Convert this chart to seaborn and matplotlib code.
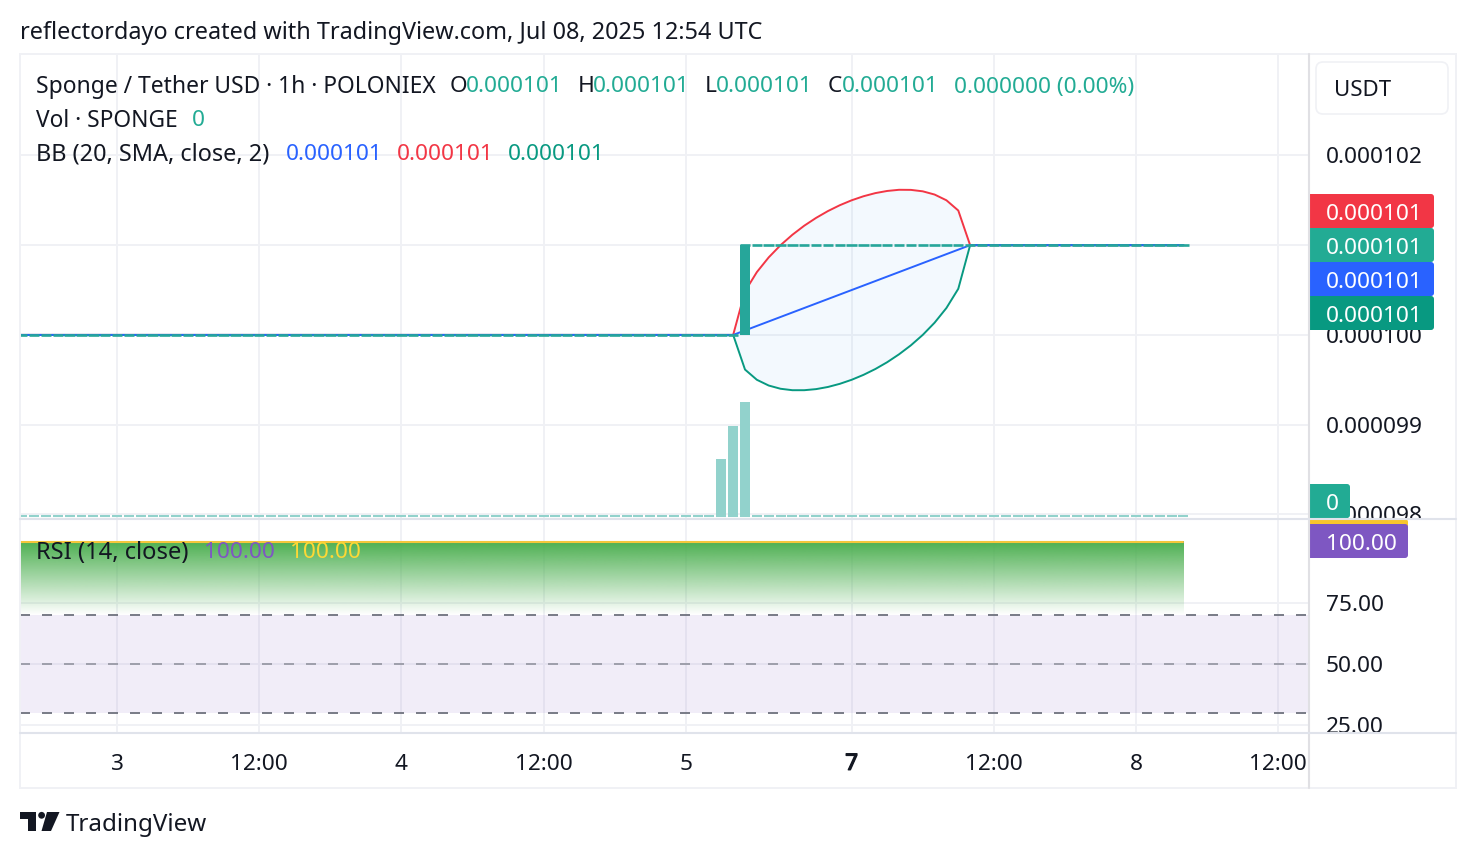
import numpy as np
import matplotlib
matplotlib.use("Agg")
import matplotlib.pyplot as plt
import matplotlib.patheffects as pe
import seaborn as sns
from matplotlib.patches import Rectangle, FancyBboxPatch, Polygon, Circle
from matplotlib.transforms import Bbox

# ---- data (bar index: one bar per hour, 0 = start of day "3") ----
bars = list(range(-9, 91))
close = [0.000100] * 62 + [0.000101] * 38
bar_index_up = 53
bar_open = 0.000100
bar_close = 0.000101
bb_mid_steps = [100.05, 100.10, 100.15, 100.20, 100.25, 100.30, 100.35, 100.40, 100.45, 100.50,
                100.55, 100.60, 100.65, 100.70, 100.75, 100.80, 100.85, 100.90, 100.95, 101.00]
bb_up_steps = [100.486, 100.70, 100.864, 101.00, 101.116, 101.217, 101.304, 101.38, 101.445, 101.50,
               101.545, 101.58, 101.604, 101.617, 101.616, 101.60, 101.564, 101.50, 101.386, 101.00]
bb_lo_steps = [99.614, 99.50, 99.436, 99.40, 99.384, 99.384, 99.396, 99.42, 99.455, 99.50,
               99.555, 99.62, 99.696, 99.784, 99.884, 100.00, 100.136, 100.30, 100.514, 101.00]
bb_mid = [100.0] * 62 + bb_mid_steps + [101.0] * 18
bb_up = [100.0] * 62 + bb_up_steps + [101.0] * 18
bb_lo = [100.0] * 62 + bb_lo_steps + [101.0] * 18
vol_bars = [51, 52, 53]
vol_values = [58, 91, 115]
rsi_x = [-8.19, 90]
rsi_values = [100, 100]
rsi_ma_values = [100, 100]
time_ticks = [0, 12, 24, 36, 48, 62, 74, 86, 98]
time_labels = ["3", "12:00", "4", "12:00", "5", "7", "12:00", "8", "12:00"]
price_ticks = [0.000098, 0.000099, 0.000100, 0.000101, 0.000102]
price_labels = ["0.000098", "0.000099", "0.000100", "0.000101", "0.000102"]
rsi_ticks = [25, 50, 75]
rsi_labels = ["25.00", "50.00", "75.00"]
rsi_levels = [30, 50, 70]

# ---- style ----
W, H = 1476, 858
FONT = "Noto Sans"
INK = "#131722"
GRID = "#F0F1F5"
EDGE = "#E0E3EB"
TEAL = "#26A69A"
UP = "#22AB94"
RED = "#F23645"
BLUE = "#2962FF"
GREEN = "#089981"
PURPLE = "#7E57C2"
YELLOW = "#FDD835"
FS = 16.3
sns.set_theme(style="white", rc={"font.family": FONT, "lines.scale_dashes": False})

fig = plt.figure(figsize=(W / 100, H / 100), dpi=100, facecolor="white")


def pane(x0, y0, x1, y1):
    return fig.add_axes([x0 / W, 1 - y1 / H, (x1 - x0) / W, (y1 - y0) / H])


XLIM = (-8.19, 100.6)
ax = pane(20, 54, 1309, 518)
vol = pane(20, 54, 1309, 518)
rsi = pane(20, 519, 1309, 733)

# ---- main pane ----
ax.set_xlim(*XLIM)
ax.set_ylim(0.00009796, 0.00010313)
ax.set_xticks(time_ticks)
ax.set_yticks(price_ticks)
ax.set_yticklabels(price_labels)
ax.set_xticklabels([])
ax.yaxis.tick_right()
ax.tick_params(axis="y", length=0, pad=12, labelsize=FS, labelcolor=INK)
ax.tick_params(axis="x", length=0)
ax.grid(True, color=GRID, lw=1.4, zorder=0)
ax.set_axisbelow(True)
for s in ax.spines.values():
    s.set_visible(False)

to_price = 1e-6
up_arr = np.array(bb_up) * to_price
lo_arr = np.array(bb_lo) * to_price
mid_arr = np.array(bb_mid) * to_price
ax.fill_between(bars, lo_arr, up_arr, color="#2196F3", alpha=0.05, lw=0, zorder=1)
sns.lineplot(x=bars, y=up_arr, ax=ax, color=RED, lw=1.4, estimator=None, errorbar=None, zorder=2)
sns.lineplot(x=bars, y=lo_arr, ax=ax, color=GREEN, lw=1.4, estimator=None, errorbar=None, zorder=2)
sns.lineplot(x=bars, y=mid_arr, ax=ax, color=BLUE, lw=1.4, estimator=None, errorbar=None, zorder=2)
bx = np.array(bars)
ax.hlines(close, bx - 0.44, bx + 0.44, color=TEAL, lw=1.9, zorder=3)
ax.bar([bar_index_up], [bar_close - bar_open], bottom=[bar_open], width=0.84, color=TEAL, lw=0, zorder=4)
ax.set_xlim(*XLIM)
ax.set_ylim(0.00009796, 0.00010313)
for lab in ax.get_yticklabels():
    lab.set_clip_on(True)
    lab.set_clip_box(Bbox([[1309, H - 518], [W, H - 54]]))

# ---- volume overlay ----
vol.patch.set_alpha(0)
vol.set_xlim(*XLIM)
vol.set_ylim(-1, 463)
vol.axis("off")
vol.hlines([1] * len(bars), bx - 0.42, bx + 0.42, color="#92D2CC", lw=1.5)
vol.bar(vol_bars, vol_values, width=0.84, color="#92D2CC", lw=0)

# ---- RSI pane ----
rsi.set_xlim(*XLIM)
rsi.set_ylim(21.8, 109.3)
rsi.set_xticks(time_ticks)
rsi.set_xticklabels(time_labels)
rsi.set_yticks(rsi_ticks)
rsi.set_yticklabels(rsi_labels)
rsi.yaxis.tick_right()
rsi.tick_params(axis="y", length=0, pad=12, labelsize=FS, labelcolor=INK)
rsi.tick_params(axis="x", length=0, pad=15, labelsize=FS, labelcolor=INK)
rsi.grid(True, color=GRID, lw=1.4, zorder=0)
rsi.set_axisbelow(True)
for s in rsi.spines.values():
    s.set_visible(False)

rsi.axhspan(rsi_levels[0], rsi_levels[2], color=PURPLE, alpha=0.1, lw=0, zorder=1)
for lvl, a in zip(rsi_levels, [1.0, 0.65, 1.0]):
    rsi.axhline(lvl, color="#787B86", alpha=a, lw=1.4, dashes=(7.2, 8.64), zorder=2)
grad = np.zeros((256, 2, 4))
grad[..., 0] = 76 / 255
grad[..., 1] = 175 / 255
grad[..., 2] = 80 / 255
grad[..., 3] = np.linspace(1.0, 0.0, 256)[:, None]
rsi.imshow(grad, extent=[rsi_x[0], rsi_x[1], 70, 100], origin="upper", aspect="auto", zorder=1.5)
sns.lineplot(x=rsi_x, y=rsi_values, ax=rsi, color=PURPLE, lw=1.1, estimator=None, errorbar=None, zorder=3)
sns.lineplot(x=rsi_x, y=rsi_ma_values, ax=rsi, color="#F5C63C", lw=1.5, estimator=None, errorbar=None, zorder=4)
rsi.set_xlim(*XLIM)
rsi.set_ylim(21.8, 109.3)
rsi.set_xticks(time_ticks)
rsi.set_xticklabels(time_labels)
for lab in rsi.get_yticklabels():
    lab.set_clip_on(True)
    lab.set_clip_box(Bbox([[1309, H - 733], [W, H - 519]]))
bold_label = rsi.get_xticklabels()[5]
bold_label.set_fontweight("bold")
bold_label.set_path_effects([pe.withStroke(linewidth=0.9, foreground=INK)])

# ---- pixel overlay for chrome and legend text ----
ov = fig.add_axes([0, 0, 1, 1], zorder=10)
ov.set_xlim(0, W)
ov.set_ylim(H, 0)
ov.axis("off")
ov.patch.set_alpha(0)

ov.add_patch(Rectangle((20, 54), 1436, 734, fill=False, ec=GRID, lw=1.4))
ov.plot([1309, 1309], [54, 788], color="#E0E0E4", lw=1.5)
ov.plot([20, 1456], [518.5, 518.5], color=EDGE, lw=1.5)
ov.plot([20, 1456], [733, 733], color=EDGE, lw=1.5)


def txt(x, y, s, color=INK, size=FS, ha="left", **kw):
    return ov.text(x, y + 2, s, color=color, fontsize=size, ha=ha, va="center", family=FONT, **kw)


def badge(x0, y0, x1, y1, color):
    ov.add_patch(FancyBboxPatch((x0 + 3, y0 + 3), x1 - x0 - 6, y1 - y0 - 6,
                                boxstyle="round,pad=3,rounding_size=3", fc=color, ec="none"))
    ov.add_patch(Rectangle((x0, y0), 6, y1 - y0, fc=color, ec="none"))


txt(20, 31, "reflectordayo created with TradingView.com, Jul 08, 2025 12:54 UTC", size=16.86)
txt(36, 85, "Sponge / Tether USD · 1h · POLONIEX", size=16.45)
for label, lx, value, vx in [("O", 450, "0.000101", 466), ("H", 578, "0.000101", 593),
                             ("L", 705, "0.000101", 716), ("C", 828, "0.000101", 842)]:
    txt(lx, 85, label)
    txt(vx, 85, value, color=UP)
txt(954, 85, "0.000000 (0.00%)", color=UP, size=16.25)
txt(36, 119, "Vol · SPONGE", size=16.35)
txt(192, 119, "0", color=UP)
txt(36, 153, "BB (20, SMA, close, 2)", size=16.9)
txt(286, 153, "0.000101", color=BLUE)
txt(397, 153, "0.000101", color=RED)
txt(508, 153, "0.000101", color=GREEN)
txt(36, 551, "RSI (14, close)", size=17.1)
txt(204, 551, "100.00", color=PURPLE)
txt(290, 551, "100.00", color=YELLOW)

ov.add_patch(FancyBboxPatch((1322, 68), 120, 40, boxstyle="round,pad=6,rounding_size=7",
                            fc="white", ec=GRID, lw=1.2))
txt(1334, 88, "USDT", size=16)

for y0, color in [(194, RED), (228, UP), (262, BLUE), (296, GREEN)]:
    badge(1310, y0, 1434, y0 + 34, color)
    txt(1326, y0 + 18, "0.000101", color="white")
badge(1310, 484, 1350, 518, UP)
txt(1326, 502, "0", color="white")
badge(1310, 519, 1408, 545, "#F9C62D")
badge(1310, 524, 1408, 558, PURPLE)
txt(1326, 542, "100.00", color="white")

# TradingView mark
ov.add_patch(Polygon([(20, 812), (36, 812), (36, 831), (27.5, 831), (27.5, 819), (20, 819)], fc=INK, ec="none"))
ov.add_patch(Circle((41.6, 815.3), 3.4, fc=INK, ec="none"))
ov.add_patch(Polygon([(47, 812), (59.5, 812), (51, 831), (41.5, 831)], fc=INK, ec="none"))
txt(66, 823, "TradingView", size=17.4)

fig.savefig("out.png", dpi=100, facecolor="white")
